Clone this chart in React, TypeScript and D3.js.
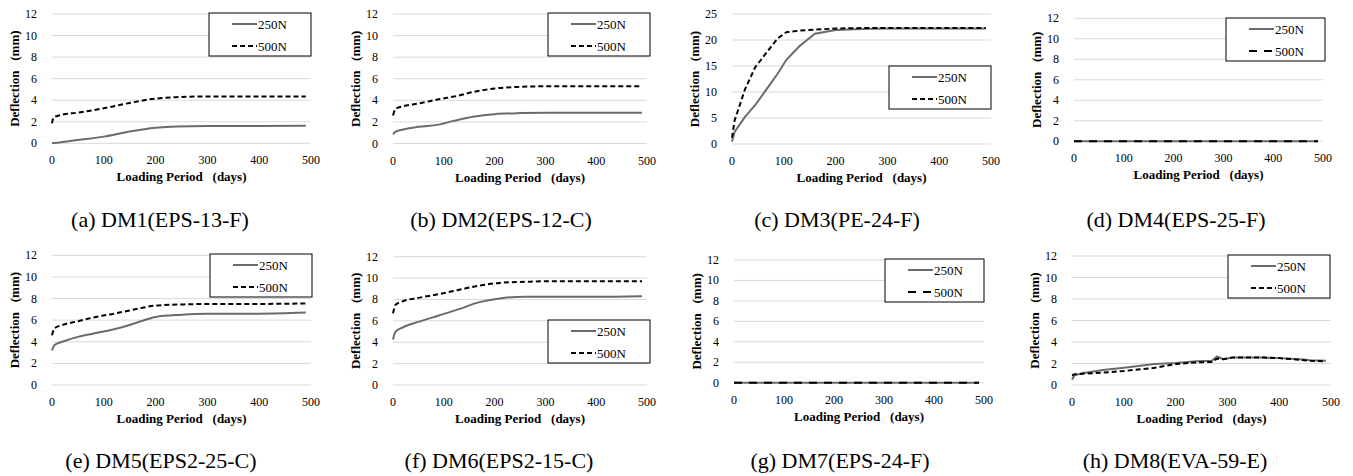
import React from 'react';
import * as d3 from 'd3';

// tick labels
const xTicks = [0, 100, 200, 300, 400, 500];
const yTicks12 = [0, 2, 4, 6, 8, 10, 12];
const yTicks25 = [0, 5, 10, 15, 20, 25];
const legendNames = ['250N', '500N'];

// (a) DM1
const dm1Days = [0, 3, 15, 50, 100, 150, 200, 240, 300, 400, 490];
const dm1Low = [0, 0.02, 0.08, 0.3, 0.62, 1.1, 1.45, 1.57, 1.6, 1.6, 1.62];
const dm1High = [1.85, 2.4, 2.6, 2.85, 3.25, 3.75, 4.15, 4.28, 4.35, 4.35, 4.35];

// (b) DM2
const dm2Days = [0, 5, 20, 50, 90, 120, 160, 200, 250, 300, 400, 490];
const dm2Low = [0.85, 1.1, 1.3, 1.55, 1.75, 2.1, 2.5, 2.72, 2.82, 2.85, 2.85, 2.85];
const dm2High = [2.6, 3.2, 3.45, 3.7, 4.1, 4.35, 4.8, 5.1, 5.25, 5.3, 5.3, 5.3];

// (c) DM3
const dm3Days = [0, 5, 25, 45, 70, 88, 105, 130, 160, 200, 250, 300, 400, 490];
const dm3Low = [0.5, 2.3, 5.2, 7.5, 11, 13.5, 16.2, 18.8, 21.2, 21.9, 22.1, 22.2, 22.2, 22.2];
const dm3High = [1.2, 4.5, 10.5, 14.8, 18, 20.3, 21.5, 21.8, 22, 22.2, 22.3, 22.3, 22.3, 22.3];

// (d) DM4 and (g) DM7: no deflection
const flatDays = [0, 490];
const flatZero = [0, 0];

// (e) DM5
const dm5Days = [0, 5, 20, 50, 90, 120, 150, 175, 200, 250, 300, 400, 490];
const dm5Low = [3.2, 3.7, 4.0, 4.45, 4.85, 5.15, 5.55, 5.95, 6.3, 6.5, 6.6, 6.6, 6.7];
const dm5High = [4.6, 5.25, 5.55, 5.9, 6.35, 6.6, 6.9, 7.15, 7.35, 7.45, 7.5, 7.5, 7.55];

// (f) DM6
const dm6Days = [0, 5, 20, 50, 90, 130, 170, 210, 260, 300, 400, 490];
const dm6Low = [4.25, 5.0, 5.4, 5.9, 6.5, 7.1, 7.75, 8.1, 8.25, 8.25, 8.25, 8.3];
const dm6High = [6.7, 7.5, 7.85, 8.15, 8.5, 8.9, 9.3, 9.55, 9.65, 9.7, 9.7, 9.7];

// (h) DM8
const dm8Days = [0, 5, 20, 60, 100, 160, 200, 240, 270, 280, 292, 310, 370, 400, 440, 460, 490];
const dm8Low = [0.5, 0.9, 1.1, 1.4, 1.6, 1.95, 2.05, 2.2, 2.25, 2.65, 2.4, 2.55, 2.55, 2.5, 2.4, 2.3, 2.25];
const dm8High = [0.9, 1.0, 1.05, 1.15, 1.3, 1.6, 1.95, 2.1, 2.15, 2.45, 2.4, 2.55, 2.55, 2.5, 2.35, 2.25, 2.2];

const FONT = "'Liberation Serif', 'DejaVu Serif', serif";

const pair = (days, vals) => days.map((d, i) => ({ x: d, y: vals[i] }));

const panels = [
  { cap: '(a) DM1(EPS-13-F)', days: dm1Days, low: dm1Low, high: dm1High, yMax: 12, yTicks: yTicks12,
    box: [52, 311, 14, 143.3], leg: [209, 13], capX: 160, capY: 227, smooth: true },
  { cap: '(b) DM2(EPS-12-C)', days: dm2Days, low: dm2Low, high: dm2High, yMax: 12, yTicks: yTicks12,
    box: [393, 647, 14, 143.5], leg: [548, 13], capX: 501, capY: 227, smooth: true },
  { cap: '(c) DM3(PE-24-F)', days: dm3Days, low: dm3Low, high: dm3High, yMax: 25, yTicks: yTicks25,
    box: [732, 991, 14, 144], leg: [889, 66], capX: 837, capY: 227, smooth: false },
  { cap: '(d) DM4(EPS-25-F)', days: flatDays, low: flatZero, high: flatZero, yMax: 12, yTicks: yTicks12,
    box: [1074, 1323, 18.3, 141.3], leg: [1226, 18], capX: 1176, capY: 227, smooth: false, longDash: true },
  { cap: '(e) DM5(EPS2-25-C)', days: dm5Days, low: dm5Low, high: dm5High, yMax: 12, yTicks: yTicks12,
    box: [52, 311, 255.3, 385], leg: [210, 254], capX: 161, capY: 468, smooth: true },
  { cap: '(f) DM6(EPS2-15-C)', days: dm6Days, low: dm6Low, high: dm6High, yMax: 12, yTicks: yTicks12,
    box: [393, 647, 256.7, 385], leg: [548, 320], capX: 499, capY: 468, smooth: true },
  { cap: '(g) DM7(EPS-24-F)', days: flatDays, low: flatZero, high: flatZero, yMax: 12, yTicks: yTicks12,
    box: [734, 984, 260, 382.7], leg: [885, 259], capX: 840, capY: 468, smooth: false, longDash: true },
  { cap: '(h) DM8(EVA-59-E)', days: dm8Days, low: dm8Low, high: dm8High, yMax: 12, yTicks: yTicks12,
    box: [1072, 1331, 256, 385], leg: [1228, 255], capX: 1175, capY: 468, smooth: false },
];

const Panel = ({ p }) => {
  const [x0, x1, y0, y1] = p.box;
  const xScale = d3.scaleLinear().domain([0, 500]).range([x0, x1]);
  const yScale = d3.scaleLinear().domain([0, p.yMax]).range([y1, y0]);
  const line = d3.line()
    .x(d => xScale(d.x))
    .y(d => yScale(d.y))
    .curve(p.smooth ? d3.curveMonotoneX : d3.curveLinear);
  const dash = p.longDash ? '8,7' : '5,3';
  const [lx, ly] = p.leg;
  const lw = p.longDash ? 99 : 102;
  return (
    <g>
      {p.yTicks.map(t => (
        <g key={'y' + t}>
          <line x1={x0} x2={x1} y1={yScale(t)} y2={yScale(t)} stroke="#d9d9d9" strokeWidth={1} />
          <text x={x0 - 15} y={yScale(t) + 4} textAnchor="end" fontSize={12}>{t}</text>
        </g>
      ))}
      {xTicks.map(t => (
        <text key={'x' + t} x={xScale(t)} y={y1 + 21} textAnchor="middle" fontSize={12}>{t}</text>
      ))}
      <path d={line(pair(p.days, p.low))} fill="none" stroke="#6b6b6b" strokeWidth={2} />
      <path d={line(pair(p.days, p.high))} fill="none" stroke="#000" strokeWidth={2} strokeDasharray={dash} />
      <text x={(x0 + x1) / 2} y={y1 + 38} textAnchor="middle" fontSize={13} fontWeight="bold"
        style={{ whiteSpace: 'pre' }}>{'Loading Period   (days)'}</text>
      <text transform={`translate(${x0 - 33},${(y0 + y1) / 2}) rotate(-90)`} textAnchor="middle" fontSize={13}
        fontWeight="bold" style={{ whiteSpace: 'pre' }}>{'Deflection   (mm)'}</text>
      <rect x={lx} y={ly} width={lw} height={43} fill="#fff" stroke="#000" strokeWidth={1} />
      {legendNames.map((name, i) => (
        <g key={name}>
          <line x1={lx + 23} x2={lx + 48} y1={ly + 11 + i * 22} y2={ly + 11 + i * 22}
            stroke={i === 0 ? '#6b6b6b' : '#000'} strokeWidth={2} strokeDasharray={i === 0 ? null : dash} />
          <text x={lx + 49} y={ly + 15.5 + i * 22} fontSize={13}>{name}</text>
        </g>
      ))}
      <text x={p.capX} y={p.capY} textAnchor="middle" fontSize={22}>{p.cap}</text>
    </g>
  );
};

export default function App() {
  return (
    <svg width={1353} height={476}
      style={{ position: 'absolute', left: 0, top: 0, background: '#fff', fontFamily: FONT }}>
      {panels.map(p => <Panel key={p.cap} p={p} />)}
    </svg>
  );
}
